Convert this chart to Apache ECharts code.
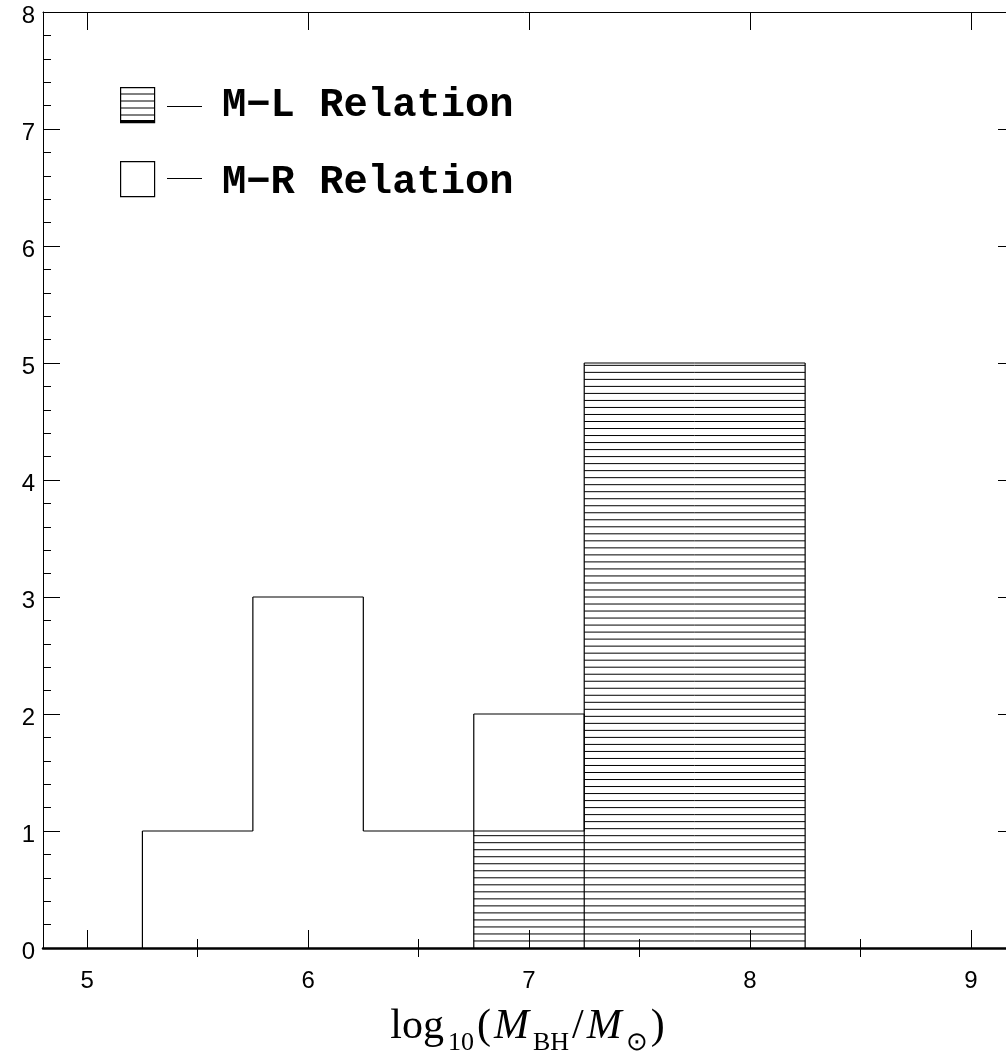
<!DOCTYPE html>
<html><head><meta charset="utf-8">
<script src="https://cdn.jsdelivr.net/npm/echarts@6/dist/echarts.min.js"></script>
<style>html,body{margin:0;padding:0;background:#fff}#c{width:1006px;height:1059px}</style>
</head><body><div id="c"></div><script>
// ---- data ----
const binEdges = [5.25, 5.75, 6.25, 6.75, 7.25, 7.75, 8.25];
const mrCounts = [1, 3, 1, 2, 0, 0];   // M-R Relation (open)
const mlCounts = [0, 0, 0, 1, 5, 5];   // M-L Relation (hatched)
const xMajorTicks = [5, 6, 7, 8, 9];
const xMinorTicks = [5.5, 6.5, 7.5, 8.5];
const xRange = [4.8, 9.2];
const yRange = [0, 8];
const legendLabels = ['M\u2212L Relation', 'M\u2212R Relation'];
const hatchStep = 0.06;

function binItems(counts) {
  const n = counts.length;
  return counts.map((c, i) => [binEdges[i], binEdges[i + 1], c, i > 0 ? counts[i - 1] : 0, i === n - 1 ? 1 : 0]);
}
function lineEl(p1, p2, w) {
  return { type: 'line', shape: { x1: p1[0], y1: p1[1], x2: p2[0], y2: p2[1] },
           style: { stroke: '#000', lineWidth: w || 1.2 } };
}
function makeRender(hatched) {
  return function (params, api) {
    const x0 = api.value(0), x1 = api.value(1), c = api.value(2), prev = api.value(3), last = api.value(4);
    const ch = [];
    if (hatched && c > 0) {
      for (let k = 1; k * hatchStep < c - 1e-9; k++) {
        const v = k * hatchStep;
        ch.push(lineEl(api.coord([x0, v]), api.coord([x1, v]), 1));
      }
    }
    if (prev !== c) ch.push(lineEl(api.coord([x0, prev]), api.coord([x0, c])));
    if (c > 0) ch.push(lineEl(api.coord([x0, c]), api.coord([x1, c])));
    if (last && c > 0) ch.push(lineEl(api.coord([x1, c]), api.coord([x1, 0])));
    return { type: 'group', children: ch };
  };
}

const tickFont = { fontFamily: 'Liberation Sans', fontSize: 24, color: '#000' };
const blk = { color: '#000', width: 1 };
const tokPad = [0, 3, 0, 0];

const chart = echarts.init(document.getElementById('c'), null, { renderer: 'canvas' });
chart.setOption({
  animation: false,
  backgroundColor: '#fff',
  grid: { left: 43, top: 12, width: 972, height: 936, containLabel: false, outerBoundsMode: 'none' },
  xAxis: [
    { type: 'value', position: 'bottom', min: xRange[0], max: xRange[1],
      axisLine: { show: true, onZero: false, lineStyle: { color: '#000', width: 2.5 } },
      axisTick: { show: true, inside: true, length: 18, customValues: xMajorTicks, lineStyle: blk },
      axisLabel: Object.assign({ show: true, margin: 21, customValues: xMajorTicks }, tickFont),
      splitLine: { show: false },
      name: '{a|log}{s|10}{a|(}{i|M}{s|BH}{a|/}{i|M}{s|\u2299}{a|)}',
      nameLocation: 'middle', nameGap: 58,
      nameTextStyle: { rich: {
        a: { fontFamily: 'Liberation Serif', fontSize: 42, color: '#000', verticalAlign: 'top', padding: tokPad },
        i: { fontFamily: 'Liberation Serif', fontStyle: 'italic', fontSize: 42, color: '#000', verticalAlign: 'top', padding: tokPad },
        s: { fontFamily: 'Liberation Serif', fontSize: 26, color: '#000', verticalAlign: 'top', padding: [24, 3, 0, 1] }
      } } },
    { type: 'value', position: 'bottom', min: xRange[0], max: xRange[1],
      axisLine: { show: false }, axisLabel: { show: false }, splitLine: { show: false },
      axisTick: { show: true, inside: true, length: 9, customValues: xMinorTicks, lineStyle: blk } },
    { type: 'value', position: 'top', min: xRange[0], max: xRange[1],
      axisLine: { show: true, onZero: false, lineStyle: blk }, axisLabel: { show: false }, splitLine: { show: false },
      axisTick: { show: true, inside: true, length: 18, customValues: xMajorTicks, lineStyle: blk } },
    { type: 'value', position: 'top', min: xRange[0], max: xRange[1],
      axisLine: { show: false }, axisLabel: { show: false }, splitLine: { show: false },
      axisTick: { show: true, inside: true, length: 9, customValues: xMinorTicks, lineStyle: blk } }
  ],
  yAxis: [
    { type: 'value', position: 'left', min: yRange[0], max: yRange[1], interval: 1,
      axisLine: { show: true, onZero: false, lineStyle: blk },
      axisTick: { show: true, inside: true, length: 17, lineStyle: blk },
      minorTick: { show: true, splitNumber: 5, length: 8, lineStyle: blk },
      axisLabel: Object.assign({ show: true, margin: 8, verticalAlign: 'top', lineHeight: 9 }, tickFont),
      splitLine: { show: false } },
    { type: 'value', position: 'right', min: yRange[0], max: yRange[1], interval: 1,
      axisLine: { show: true, onZero: false, lineStyle: blk },
      axisTick: { show: true, inside: true, length: 17, lineStyle: blk },
      minorTick: { show: true, splitNumber: 5, length: 8, lineStyle: blk },
      axisLabel: { show: false }, splitLine: { show: false } }
  ],
  series: [
    { type: 'custom', name: legendLabels[1], xAxisIndex: 0, yAxisIndex: 0,
      encode: { x: [0, 1], y: 2 }, renderItem: makeRender(false), data: binItems(mrCounts), z: 2 },
    { type: 'custom', name: legendLabels[0], xAxisIndex: 0, yAxisIndex: 0,
      encode: { x: [0, 1], y: 2 }, renderItem: makeRender(true), data: binItems(mlCounts), z: 3 }
  ],
  graphic: [
    { type: 'rect', left: 120, top: 87, shape: { width: 34, height: 35 }, style: { fill: '#fff', stroke: '#000', lineWidth: 1.2 } },
    { type: 'line', shape: { x1: 120, y1: 94, x2: 154, y2: 94 }, style: { stroke: '#000', lineWidth: 1 } },
    { type: 'line', shape: { x1: 120, y1: 101, x2: 154, y2: 101 }, style: { stroke: '#000', lineWidth: 1 } },
    { type: 'line', shape: { x1: 120, y1: 108, x2: 154, y2: 108 }, style: { stroke: '#000', lineWidth: 1 } },
    { type: 'line', shape: { x1: 120, y1: 115, x2: 154, y2: 115 }, style: { stroke: '#000', lineWidth: 1 } },
    { type: 'line', shape: { x1: 120, y1: 121, x2: 154, y2: 121 }, style: { stroke: '#000', lineWidth: 2 } },
    { type: 'line', shape: { x1: 167, y1: 106.5, x2: 202, y2: 106.5 }, style: { stroke: '#000', lineWidth: 1.2 } },
    { type: 'text', left: 222, top: 85, style: { text: legendLabels[0], font: 'bold 40.5px "Liberation Mono"', fill: '#000' } },
    { type: 'rect', left: 120, top: 161, shape: { width: 34, height: 35 }, style: { fill: '#fff', stroke: '#000', lineWidth: 1.2 } },
    { type: 'line', shape: { x1: 167, y1: 178.5, x2: 202, y2: 178.5 }, style: { stroke: '#000', lineWidth: 1.2 } },
    { type: 'text', left: 222, top: 162, style: { text: legendLabels[1], font: 'bold 40.5px "Liberation Mono"', fill: '#000' } }
  ]
});
</script></body></html>
